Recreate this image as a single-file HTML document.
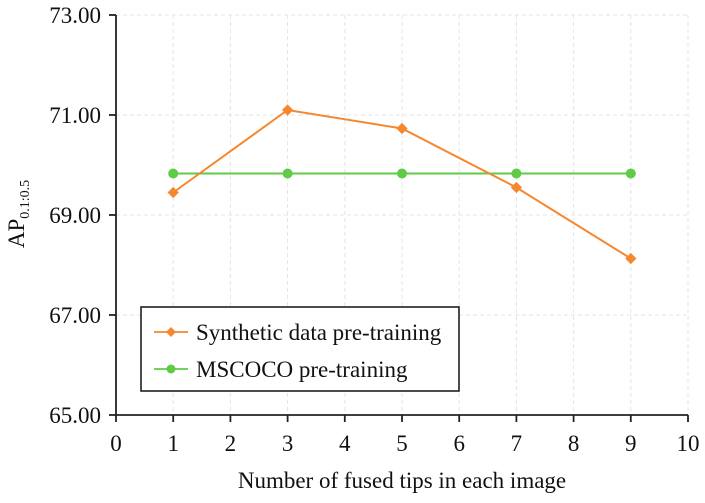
<!DOCTYPE html>
<html><head><meta charset="utf-8"><style>
body{margin:0;background:#fff}
svg text{font-family:"Liberation Serif",serif;fill:#111}
</style></head><body>
<svg width="705" height="498" viewBox="0 0 705 498">
<g id="grid"></g><g id="axes"></g><g id="series"></g>
<g>
<rect x="141" y="307" width="318" height="84" fill="#fff" stroke="#111" stroke-width="1.5"/>
<g>
<line x1="154" y1="332" x2="188" y2="332" stroke="#f5872e" stroke-width="1.8"/>
<rect x="167.5" y="328.5" width="7" height="7" fill="#f5872e" transform="rotate(45 171 332)"/>
<text x="196" y="340" font-size="23">Synthetic data pre-training</text></g>
<g>
<line x1="154" y1="369" x2="188" y2="369" stroke="#5fcb46" stroke-width="1.8"/>
<circle cx="171" cy="369" r="4.5" fill="#5fcb46"/>
<text x="196" y="377" font-size="23">MSCOCO pre-training</text></g>
</g>
<text x="402" y="488" font-size="23" text-anchor="middle">Number of fused tips in each image</text>
<text transform="translate(24,214) rotate(-90)" font-size="23" text-anchor="middle">AP<tspan font-size="14" dy="5">0.1:0.5</tspan></text>
</svg>
<script>
const xCats=[1,3,5,7,9];
const synthetic=[69.45,71.1,70.73,69.55,68.13];
const mscoco=[69.83,69.83,69.83,69.83,69.83];
const xTicks=[0,1,2,3,4,5,6,7,8,9,10];
const yTicks=[65,67,69,71,73];
const NS='http://www.w3.org/2000/svg';
const X=v=>116+v*57.2, Y=v=>415-(v-65)*50;
function mk(t,a,p){const e=document.createElementNS(NS,t);for(const k in a)e.setAttribute(k,a[k]);p.appendChild(e);return e;}
const grid=document.getElementById('grid'),axes=document.getElementById('axes'),ser=document.getElementById('series');
xTicks.forEach(t=>{if(t>0){const l=mk('line',{x1:X(t),x2:X(t),y1:Y(73),y2:Y(65),stroke:'#e4e4e4','stroke-dasharray':'4,3'},grid);

}
mk('line',{x1:X(t),x2:X(t),y1:Y(65),y2:Y(65)+7,stroke:'#222','stroke-width':1.8},axes);
const tx=mk('text',{x:X(t),y:451,'font-size':23,'text-anchor':'middle'},axes);tx.textContent=t;

});
yTicks.forEach(t=>{if(t>65){const l=mk('line',{x1:X(0),x2:X(10),y1:Y(t),y2:Y(t),stroke:'#e4e4e4','stroke-dasharray':'4,3'},grid);

}
mk('line',{x1:X(0)-7,x2:X(0),y1:Y(t),y2:Y(t),stroke:'#222','stroke-width':1.8},axes);
const tx=mk('text',{x:101,y:Y(t)+8,'font-size':23,'text-anchor':'end'},axes);tx.textContent=t.toFixed(2);

});
const xa=mk('line',{x1:X(0),x2:X(10),y1:Y(65),y2:Y(65),stroke:'#222','stroke-width':1.8},axes);


const ya=mk('line',{x1:X(0),x2:X(0),y1:Y(73),y2:Y(65),stroke:'#222','stroke-width':1.8},axes);


function line(vals,col,name){const p=mk('polyline',{points:xCats.map((c,i)=>X(c)+','+Y(vals[i])).join(' '),fill:'none',stroke:col,'stroke-width':2},ser);

}
line(mscoco,'#5fcb46','mscoco');
line(synthetic,'#f5872e','synthetic');
xCats.forEach((c,i)=>{const m=mk('circle',{cx:X(c),cy:Y(mscoco[i]),r:5,fill:'#5fcb46'},ser);

});
xCats.forEach((c,i)=>{const x=X(c),y=Y(synthetic[i]);const m=mk('rect',{x:x-4,y:y-4,width:8,height:8,fill:'#f5872e',transform:`rotate(45 ${x} ${y})`},ser);

});
</script>
</body></html>
